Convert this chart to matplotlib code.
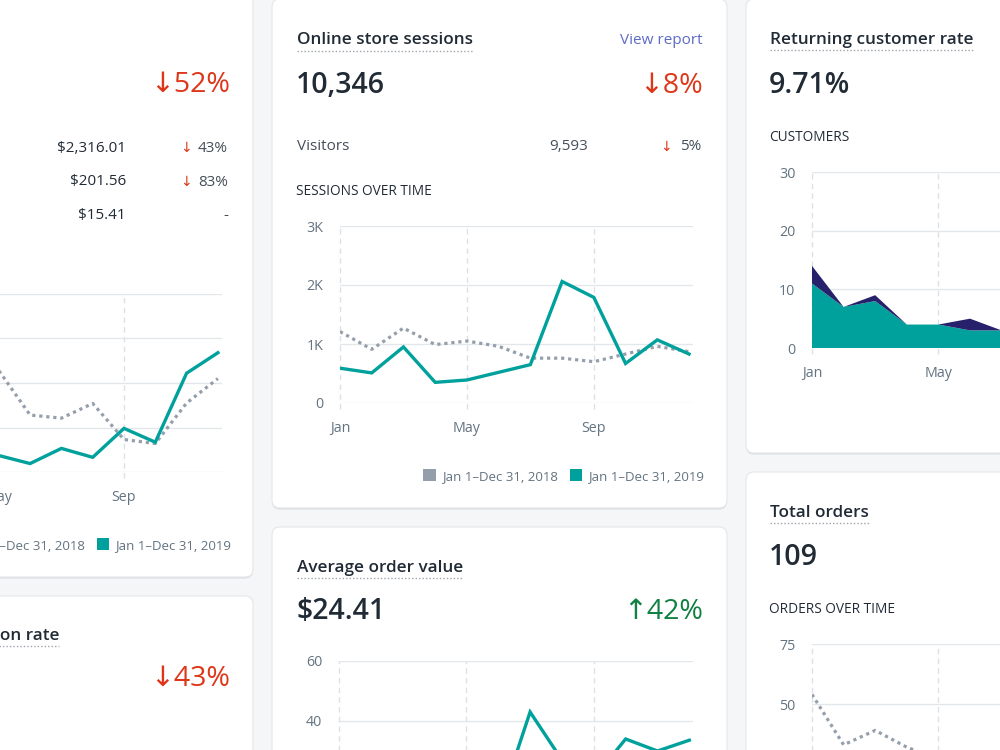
import matplotlib.pyplot as plt
from matplotlib.patches import FancyBboxPatch, Patch
from matplotlib.lines import Line2D

plt.rcParams['font.family'] = ['Open Sans', 'DejaVu Sans']

W, H = 1000, 750

# month positions (0 = Jan ... 11 = Dec)
months = list(range(12))
month_ticks = [0, 4, 8]
month_tick_labels = ['Jan', 'May', 'Sep']
legend_labels = ['Jan 1\u2013Dec 31, 2018', 'Jan 1\u2013Dec 31, 2019']

# left card (sales over time), only May..Dec visible
sales_2018 = [250, 200, 300, 260, 228, 128, 121, 154, 73, 64, 155, 210]
sales_2019 = [60, 45, 80, 50, 37, 19, 53, 33, 98, 67, 222, 268]
sales_yticks = [0, 100, 200, 300, 400]
sales_rows = ['$2,316.01', '$201.56', '$15.41']
sales_row_deltas = ['43%', '83%', '-']

# online store sessions
sessions_2018 = [1210, 910, 1270, 990, 1050, 960, 760, 760, 700, 830, 960, 870]
sessions_2019 = [590, 510, 950, 350, 390, 520, 650, 2060, 1790, 670, 1070, 830]
sessions_yticks = [0, 1000, 2000, 3000]
sessions_ylabels = ['0', '1K', '2K', '3K']

# returning customers (stacked)
first_time = [11, 7, 8, 4, 4, 3, 3, 4, 4, 5, 4, 4]
returning = [3, 0, 1, 0, 0, 2, 0, 1, 0, 1, 0, 1]
customer_yticks = [0, 10, 20, 30]

# average order value 2019
aov_2019 = [18, 22, 20, 25, 24, 11, 43, 27, 21, 34, 30, 33.6]
aov_yticks = [0, 20, 40, 60]

# total orders 2018
orders_2018 = [54, 33, 39, 32, 27, 22, 20, 18, 17, 19, 21, 20]
orders_yticks = [0, 25, 50, 75]

TEAL = '#00a19c'
GRAY = '#959fab'
NAVY = '#27206b'
INK = '#212b36'
MUTED = '#637381'
RED = '#de3618'
GREEN = '#108043'
GRID = '#e3e6ea'

fig = plt.figure(figsize=(10, 7.5), dpi=100, facecolor='#f4f6f8')


def fx(x):
    return x / W


def fy(y):
    return 1 - y / H


def card(x0, y0, x1, y1):
    # drawn in inches so the rounded corners stay round
    for dy, fc, ec in [(1.5, '#dadde1', 'none'), (0, 'white', '#e4e6e9')]:
        p = FancyBboxPatch((x0 / 100, (H - y1 - dy) / 100), (x1 - x0) / 100, (y1 - y0) / 100,
                           boxstyle='round,pad=0,rounding_size=0.08',
                           transform=fig.dpi_scale_trans, fc=fc, ec=ec, lw=0.8, zorder=-10)
        fig.add_artist(p)


def txt(x, y, s, size, color=INK, ha='left', weight='normal'):
    return fig.text(fx(x), fy(y), s, fontsize=size, color=color, ha=ha,
                    va='baseline', fontweight=weight)


def title(x, y, s, ha='left'):
    t = txt(x, y, s, 12.3, weight='semibold', ha=ha)
    bb = t.get_window_extent(fig.canvas.get_renderer())
    fig.add_artist(Line2D([bb.x0 / W, bb.x1 / W], [fy(y + 6)] * 2, color='#9ea5ad',
                          lw=1, ls=(0, (1, 1.5))))
    return t


def big(x, y, s, color=INK, ha='left', weight='semibold'):
    return txt(x, y, s, 20.5, color, ha, weight)


def chart(x_jan, month_px, top, bottom, yticks, ylabels=None, xlabels=None):
    span = 11.13
    ax = fig.add_axes([fx(x_jan), fy(bottom), span * month_px / W, (bottom - top) / H])
    ax.set_facecolor('none')
    ax.set_xlim(0, span)
    ax.set_ylim(yticks[0], yticks[-1])
    for s in ax.spines.values():
        s.set_visible(False)
    ax.set_yticks(yticks, ylabels if ylabels is not None else [str(v) for v in yticks])
    ax.set_xticks(month_ticks, xlabels if xlabels is not None else month_tick_labels)
    ax.tick_params(length=0, labelsize=10.3, labelcolor=MUTED)
    ax.tick_params(axis='y', pad=12)
    ax.tick_params(axis='x', pad=13)
    ax.grid(axis='y', color=GRID, lw=1)
    ax.set_axisbelow(True)
    for m in month_ticks:
        ax.axvline(m, ymin=-0.035, ymax=1, color='#dde1e6', lw=1, ls=(0, (4, 3)),
                   clip_on=False, zorder=0)
    return ax


def lines(ax, prev, cur):
    if prev is not None:
        ax.plot(months, prev, color=GRAY, lw=2.3, ls=(0, (1, 1.2)), dash_capstyle='butt', zorder=2)
    if cur is not None:
        ax.plot(months, cur, color=TEAL, lw=2.4, solid_joinstyle='miter', zorder=3)


def legend(ax, right, y):
    h = [Patch(fc=GRAY, label=legend_labels[0]), Patch(fc=TEAL, label=legend_labels[1])]
    ax.legend(handles=h, loc='center right', bbox_to_anchor=(fx(right), fy(y)),
              bbox_transform=fig.transFigure, ncol=2, frameon=False, fontsize=9.5,
              handlelength=0.95, handleheight=0.95, handletextpad=0.45, columnspacing=0.9,
              borderpad=0, borderaxespad=0, labelcolor=MUTED)


# cards
card(-20, -20, 253, 577)
card(272, -1, 727, 508)
card(746, -1, 1020, 453)
card(-20, 596, 253, 770)
card(272, 527, 727, 770)
card(746, 472, 1020, 770)

# left card: sales
big(230, 92, '\u219352%', RED, 'right', 'normal')
for i, (v, d) in enumerate(zip(sales_rows, sales_row_deltas)):
    y = 151.5 + 34 * i
    txt(126, y, v, 11, ha='right')
    txt(228, y, d, 11, '#454f5b', 'right')
    if d != '-':
        txt(186, y, '\u2193', 10, RED, 'center')
# y labels of this chart sit off the left edge of the picture
ax = chart(-126.4, 31.3, 294, 472, sales_yticks, ['', '', '', '', ''], ['', 'May', 'Sep'])
lines(ax, sales_2018, sales_2019)
legend(ax, 231, 545)

# online store sessions
title(297, 44.5, 'Online store sessions')
txt(703, 44.5, 'View report', 11, '#5c6ac4', 'right')
big(296, 93, '10,346')
big(703, 93, '\u21938%', RED, 'right', 'normal')
txt(297, 150.5, 'Visitors', 11, '#454f5b')
txt(588, 150.5, '9,593', 11, '#454f5b', 'right')
txt(666, 150.5, '\u2193', 10, RED, 'center')
txt(701, 150.5, '5%', 11, '#454f5b', 'right')
txt(296, 195, 'SESSIONS OVER TIME', 9.8)
ax = chart(340, 31.73, 226, 403, sessions_yticks, sessions_ylabels)
lines(ax, sessions_2018, sessions_2019)
legend(ax, 704, 476)

# returning customer rate
title(770, 44.3, 'Returning customer rate')
big(769, 92.7, '9.71%')
txt(769, 140.7, 'CUSTOMERS', 9.8)
ax = chart(812, 31.6, 172, 348, customer_yticks, None, ['Jan', 'May', ''])
ax.stackplot(months, first_time, returning, colors=[TEAL, NAVY], lw=0, zorder=2)

# conversion rate (cut off)
title(59, 640, 'Online store conversion rate', ha='right')
big(230, 686.5, '\u219343%', RED, 'right', 'normal')

# average order value
title(297, 571.7, 'Average order value')
big(297, 619.3, '$24.41')
big(703, 619.3, '\u219142%', GREEN, 'right', 'normal')
ax = chart(339, 31.85, 661, 841, aov_yticks)
lines(ax, None, aov_2019)

# total orders
title(770, 517, 'Total orders')
big(769, 565, '109')
txt(769, 613, 'ORDERS OVER TIME', 9.8)
ax = chart(812, 31.6, 644, 824, orders_yticks, None, ['Jan', 'May', ''])
lines(ax, orders_2018, None)

fig.savefig('out.png', dpi=100, facecolor=fig.get_facecolor())
